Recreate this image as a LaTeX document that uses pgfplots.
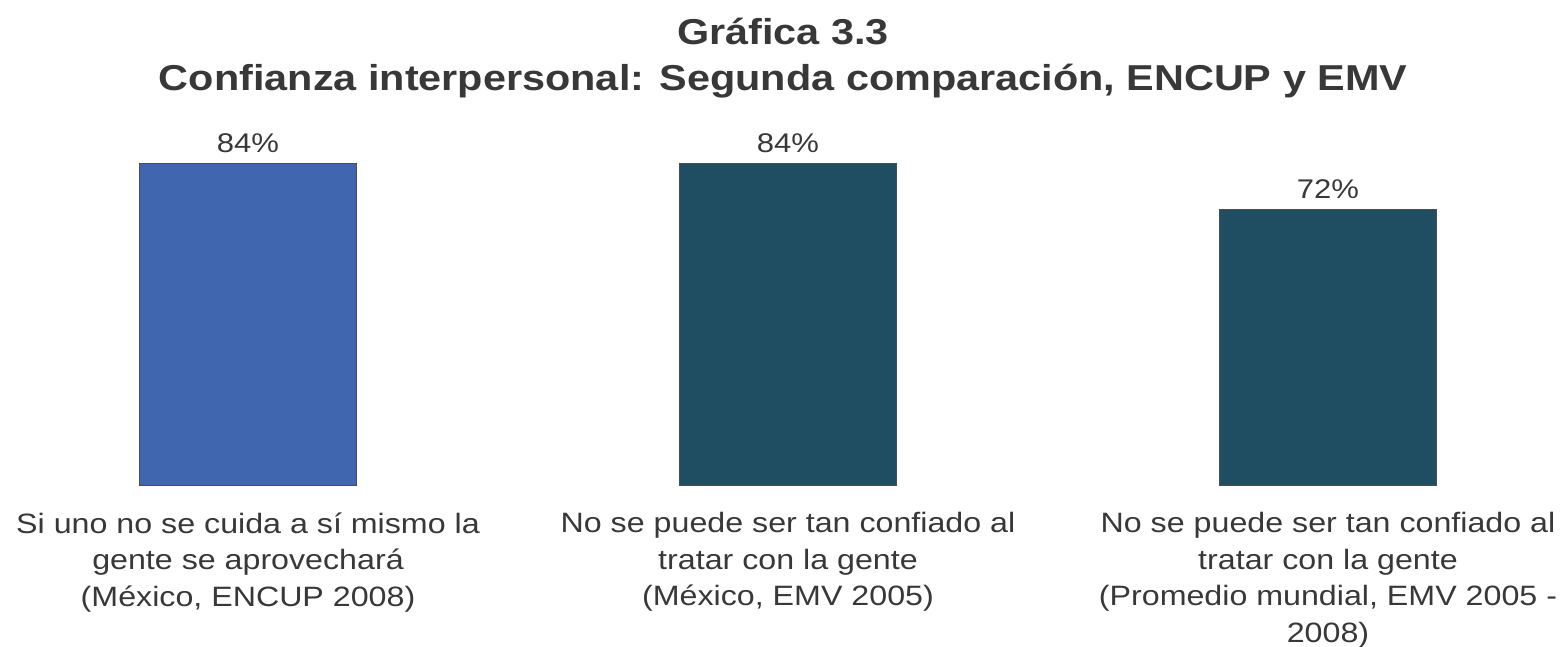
\documentclass[border=0pt]{standalone}
\usepackage{pgfplots}
\pgfplotsset{compat=1.18}
\usepackage{fontspec}
\setmainfont[FakeStretch=1.15]{Liberation Sans}
\definecolor{barblue}{HTML}{3F66AE}
\definecolor{barteal}{HTML}{1F4D62}
\definecolor{txt}{HTML}{383838}
\begin{document}
\begin{tikzpicture}
\begin{axis}[
  scale only axis,
  width=783.5pt, height=242.5pt,
  xmin=-0.4593, xmax=2.4426,
  ymin=0, ymax=126.6,
  axis line style={draw=none},
  tick style={draw=none},
  ytick=\empty,
  xtick={0,1,2},
  xticklabels={
    {Si uno no se cuida a sí mismo la\\gente se aprovechará\\(México, ENCUP 2008)},
    {No se puede ser tan confiado al\\tratar con la gente\\(México, EMV 2005)},
    {No se puede ser tan confiado al\\tratar con la gente\\(Promedio mundial, EMV 2005 -\\2008)}},
  xticklabel style={align=center, anchor=north, inner sep=0pt, font=\fontsize{14}{18.25}\selectfont, text=txt, yshift=-9.3pt},
  /pgf/number format/assume math mode=true,
  ybar, bar width=108.5pt,
  nodes near coords={\pgfmathprintnumber{\pgfplotspointmeta}\%},
  nodes near coords style={font=\fontsize{13.5}{15}\selectfont, text=txt, anchor=base, yshift=5.5pt},
  clip=false,
]
\addplot[bar shift=0pt, fill=barblue, draw=black!70, line width=0.5pt] coordinates {(0,84)};
\addplot[bar shift=0pt, fill=barteal, draw=black!70, line width=0.5pt] coordinates {(1,84) (2,72)};
\node[anchor=base, font=\fontsize{18}{22}\selectfont\bfseries, text=txt] at (axis cs:0.991,115.1) {Gráfica 3.3};
\node[anchor=base, font=\fontsize{18}{22}\selectfont\bfseries, text=txt] at (axis cs:0.991,103.1) {Confianza interpersonal: Segunda comparación, ENCUP y EMV};
\coordinate (bl) at (rel axis cs:0,0);
\coordinate (tr) at (rel axis cs:1,1);
\end{axis}
\pgfresetboundingbox
\path[use as bounding box] ([yshift=-81pt]bl) rectangle (tr);
\end{tikzpicture}
\end{document}
